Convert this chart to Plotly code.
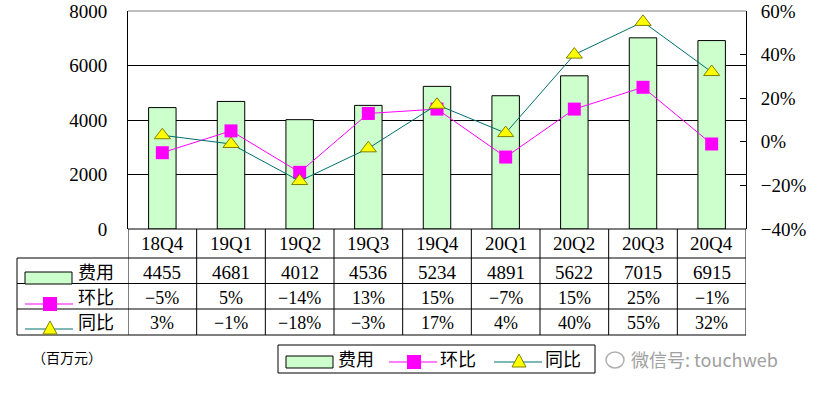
import plotly.graph_objects as go

categories = ["18Q4", "19Q1", "19Q2", "19Q3", "19Q4", "20Q1", "20Q2", "20Q3", "20Q4"]
cost = [4455, 4681, 4012, 4536, 5234, 4891, 5622, 7015, 6915]
qoq = [-0.05, 0.05, -0.14, 0.13, 0.15, -0.07, 0.15, 0.25, -0.01]
yoy = [0.03, -0.01, -0.18, -0.03, 0.17, 0.04, 0.40, 0.55, 0.32]
series_names = ["费用", "环比", "同比"]
unit_label = "（百万元）"
watermark = "微信号: touchweb"

W_FIG, H_FIG = 819, 394
L, R, T, B = 128, 746, 11, 229
PW, PH = R - L, B - T

GREEN = "#CCFFCC"
MAGENTA = "#FF00FF"
TEAL = "#007070"
YELLOW = "#FFFF00"
OLIVE = "#808000"
FONT = "Liberation Serif, Noto Sans CJK SC, serif"


def px(x):
    return (x - L) / PW


def py(y):
    return (B - y) / PH


def fmt_pct(v):
    s = f"{round(v * 100):d}%"
    return s.replace("-", "\u2212")


fig = go.Figure()
fig.add_trace(go.Bar(x=categories, y=cost, name=series_names[0], width=0.4,
                     marker=dict(color=GREEN, line=dict(color="black", width=1)),
                     yaxis="y"))
fig.add_trace(go.Scatter(x=categories, y=qoq, name=series_names[1], mode="lines+markers",
                         line=dict(color=MAGENTA, width=1),
                         marker=dict(symbol="square", size=13, color=MAGENTA,
                                     line=dict(color=MAGENTA, width=0)),
                         yaxis="y2"))
fig.add_trace(go.Scatter(x=categories, y=yoy, name=series_names[2], mode="lines+markers",
                         line=dict(color=TEAL, width=1),
                         marker=dict(symbol="triangle-up", size=14, color=YELLOW,
                                     line=dict(color=OLIVE, width=1)),
                         yaxis="y2"))

shapes = []
annotations = []


def text_at(x, xref, y, text, size, xanchor="center", color="black", family=FONT):
    annotations.append(dict(x=x, xref=xref, y=y, yref="paper", text=text, showarrow=False,
                            xanchor=xanchor, yanchor="middle",
                            font=dict(size=size, family=family, color=color)))


# top border of plot area (gray)
shapes.append(dict(type="line", xref="paper", yref="paper", x0=0, x1=1, y0=1, y1=1,
                   line=dict(color="#808080", width=1), layer="above"))

# Table grid
n = len(categories)
rows_y = [258, 283.5, 309, 335]
for yv in rows_y:
    shapes.append(dict(type="line", xref="paper", yref="paper", x0=px(17), x1=1,
                       y0=py(yv), y1=py(yv), line=dict(color="black", width=1)))
shapes.append(dict(type="line", xref="paper", yref="paper", x0=0, x1=1,
                   y0=0, y1=0, line=dict(color="black", width=1)))
for i in range(n + 1):
    shapes.append(dict(type="line", xref="x", yref="paper", x0=i - 0.5, x1=i - 0.5,
                       y0=0, y1=py(335), line=dict(color="black", width=1)))
shapes.append(dict(type="line", xref="paper", yref="paper", x0=px(17), x1=px(17),
                   y0=py(258), y1=py(335), line=dict(color="black", width=1)))

# table cell texts
row_centers = [243, 272, 298, 323]
for i, c in enumerate(categories):
    text_at(c, "x", py(row_centers[0]), c, 19)
    text_at(c, "x", py(row_centers[1]), str(cost[i]), 19)
    text_at(c, "x", py(row_centers[2]), fmt_pct(qoq[i]), 18)
    text_at(c, "x", py(row_centers[3]), fmt_pct(yoy[i]), 18)


def legend_symbols(x0, yc, kind):
    out = []
    if kind == 0:
        out.append(dict(type="rect", xref="paper", yref="paper", x0=px(x0), x1=px(x0 + 47),
                        y0=py(yc - 6), y1=py(yc + 6), fillcolor=GREEN,
                        line=dict(color="black", width=1)))
    elif kind == 1:
        out.append(dict(type="line", xref="paper", yref="paper", x0=px(x0), x1=px(x0 + 48),
                        y0=py(yc), y1=py(yc), line=dict(color=MAGENTA, width=1)))
        out.append(dict(type="rect", xref="paper", yref="paper", x0=px(x0 + 18), x1=px(x0 + 32),
                        y0=py(yc - 7), y1=py(yc + 7), fillcolor=MAGENTA,
                        line=dict(color=MAGENTA, width=0)))
    else:
        out.append(dict(type="line", xref="paper", yref="paper", x0=px(x0), x1=px(x0 + 48),
                        y0=py(yc), y1=py(yc), line=dict(color=TEAL, width=1)))
        xa, xb, xm = px(x0 + 18), px(x0 + 32), px(x0 + 25)
        ya, yt = py(yc + 5), py(yc - 8)
        out.append(dict(type="path", xref="paper", yref="paper",
                        path=f"M {xa} {ya} L {xb} {ya} L {xm} {yt} Z",
                        fillcolor=YELLOW, line=dict(color=OLIVE, width=1)))
    return out


# row labels in table
row_sym_y = [278, 304, 329]
row_text_y = [273, 298, 323]
for k in range(3):
    shapes += legend_symbols(25, row_sym_y[k], k)
    text_at(px(76), "paper", py(row_text_y[k]), series_names[k], 18, xanchor="left")

# bottom legend
shapes.append(dict(type="rect", xref="paper", yref="paper", x0=px(278), x1=px(595),
                   y0=py(345), y1=py(373), line=dict(color="black", width=1),
                   fillcolor="rgba(0,0,0,0)"))
leg_x = [286, 389, 494]
leg_tx = [336, 438, 543]
for k in range(3):
    shapes += legend_symbols(leg_x[k], 362, k)
    text_at(px(leg_tx[k]), "paper", py(360), series_names[k], 18, xanchor="left")

# unit label
text_at(px(67), "paper", py(358), unit_label, 14)

# watermark
shapes.append(dict(type="circle", xref="paper", yref="paper", x0=px(606), x1=px(624),
                   y0=py(368), y1=py(352), line=dict(color="#B0B0B0", width=1.5)))
text_at(px(629), "paper", py(359), watermark, 18, xanchor="left", color="#A0A0A0",
        family="Noto Sans CJK SC, sans-serif")

fig.update_layout(
    width=W_FIG, height=H_FIG,
    margin=dict(l=L, r=W_FIG - R, t=T, b=H_FIG - B, pad=0, autoexpand=False),
    paper_bgcolor="white", plot_bgcolor="white",
    showlegend=False,
    font=dict(family=FONT, size=18, color="black"),
    xaxis=dict(type="category", range=[-0.5, n - 0.5], showticklabels=False,
               showgrid=False, zeroline=False, showline=False, ticks="", automargin=False),
    yaxis=dict(range=[0, 8000], tickvals=[0, 2000, 4000, 6000, 8000],
               showgrid=True, gridcolor="black", gridwidth=1,
               showline=True, linecolor="black", linewidth=1, automargin=False,
               zeroline=False, ticks="", ticklabelstandoff=16,
               tickfont=dict(size=19, family=FONT, color="black")),
    yaxis2=dict(range=[-0.4, 0.6], tickvals=[-0.4, -0.2, 0, 0.2, 0.4, 0.6],
                ticktext=[fmt_pct(v) for v in [-0.4, -0.2, 0, 0.2, 0.4, 0.6]],
                overlaying="y", side="right", showgrid=False, zeroline=False,
                showline=True, linecolor="black", linewidth=1, automargin=False,
                ticks="inside", ticklen=6, tickcolor="black", ticklabelstandoff=10,
                tickfont=dict(size=19, family=FONT, color="black")),
    shapes=shapes,
    annotations=annotations,
)

fig.write_html("out.html", config={"displayModeBar": False},
               post_script="document.body.style.margin='0';document.body.style.overflow='hidden';")
